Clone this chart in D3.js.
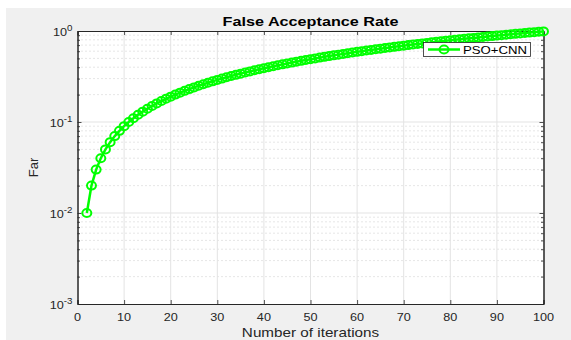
<!DOCTYPE html>
<html>
<head>
<meta charset="utf-8">
<script src="https://cdn.jsdelivr.net/npm/d3@7"></script>
<style>
  html, body { margin: 0; padding: 0; background: #ffffff; }
  svg { display: block; }
  text { font-family: "Liberation Sans", Arial, Helvetica, sans-serif; }
</style>
</head>
<body>
<svg id="chart" width="571" height="340"></svg>
<script>
// Iteration numbers and the false acceptance rate reached at each one
const iterations = [
  2, 3, 4, 5, 6, 7, 8, 9, 10, 11, 12, 13, 14, 15, 16, 17, 18, 19, 20,
  21, 22, 23, 24, 25, 26, 27, 28, 29, 30, 31, 32, 33, 34, 35, 36, 37, 38, 39, 40,
  41, 42, 43, 44, 45, 46, 47, 48, 49, 50, 51, 52, 53, 54, 55, 56, 57, 58, 59, 60,
  61, 62, 63, 64, 65, 66, 67, 68, 69, 70, 71, 72, 73, 74, 75, 76, 77, 78, 79, 80,
  81, 82, 83, 84, 85, 86, 87, 88, 89, 90, 91, 92, 93, 94, 95, 96, 97, 98, 99, 100
];
const farValues = [
  0.01, 0.02, 0.03, 0.04, 0.05, 0.06, 0.07, 0.08, 0.09, 0.10, 0.11, 0.12, 0.13, 0.14, 0.15, 0.16, 0.17, 0.18, 0.19,
  0.20, 0.21, 0.22, 0.23, 0.24, 0.25, 0.26, 0.27, 0.28, 0.29, 0.30, 0.31, 0.32, 0.33, 0.34, 0.35, 0.36, 0.37, 0.38, 0.39,
  0.40, 0.41, 0.42, 0.43, 0.44, 0.45, 0.46, 0.47, 0.48, 0.49, 0.50, 0.51, 0.52, 0.53, 0.54, 0.55, 0.56, 0.57, 0.58, 0.59,
  0.60, 0.61, 0.62, 0.63, 0.64, 0.65, 0.66, 0.67, 0.68, 0.69, 0.70, 0.71, 0.72, 0.73, 0.74, 0.75, 0.76, 0.77, 0.78, 0.79,
  0.80, 0.81, 0.82, 0.83, 0.84, 0.85, 0.86, 0.87, 0.88, 0.89, 0.90, 0.91, 0.92, 0.93, 0.94, 0.95, 0.96, 0.97, 0.98, 0.99
];
const xTicks = [0, 10, 20, 30, 40, 50, 60, 70, 80, 90, 100];
const yExponents = [-3, -2, -1, 0];
const seriesName = "PSO+CNN";
const titleText = "False Acceptance Rate";
const xLabelText = "Number of iterations";
const yLabelText = "Far";

const svg = d3.select("#chart");
const W = 571, H = 340;
const plot = { left: 77.5, top: 31, right: 543.5, bottom: 304 };
const stretch = 1.2;   // wide letterforms
const axisColor = "#262626";

// Text placed at (cx, cy) and widened horizontally
function wideText(parent, cx, cy, str, opts) {
  const g = parent.append("g").attr("transform", `translate(${cx},${cy}) scale(${opts.sx || stretch},1)`);
  const t = g.append("text")
    .attr("text-anchor", opts.anchor || "middle")
    .attr("font-size", opts.size)
    .attr("font-weight", opts.weight || "normal")
    .attr("fill", opts.fill || axisColor);
  if (str !== null) t.text(str);
  return t;
}

// Figure background
svg.append("rect").attr("x", 6).attr("y", 8).attr("width", W - 6).attr("height", H - 8)
  .attr("fill", "#f0f0f0");

const x = d3.scaleLinear().domain([0, 100]).range([plot.left, plot.right]);
const y = d3.scaleLog().domain([1e-3, 1]).range([plot.bottom, plot.top]);

// Axes area
svg.append("rect").attr("x", plot.left).attr("y", plot.top)
  .attr("width", plot.right - plot.left).attr("height", plot.bottom - plot.top)
  .attr("fill", "#ffffff");

// Minor decade values for the y grid
const minorY = [];
yExponents.slice(0, -1).forEach(e => {
  for (let m = 2; m <= 9; m++) minorY.push(m * Math.pow(10, e));
});
const majorY = yExponents.map(e => Math.pow(10, e));

const grid = svg.append("g");
grid.selectAll("line.minor").data(minorY).join("line")
  .attr("x1", plot.left).attr("x2", plot.right)
  .attr("y1", d => y(d)).attr("y2", d => y(d))
  .attr("stroke", "#c0c0c0").attr("stroke-width", 0.8)
  .attr("stroke-dasharray", "1,3");
grid.selectAll("line.majy").data(majorY.slice(1, -1)).join("line")
  .attr("x1", plot.left).attr("x2", plot.right)
  .attr("y1", d => y(d)).attr("y2", d => y(d))
  .attr("stroke", "#e3e3e3").attr("stroke-width", 1);
grid.selectAll("line.majx").data(xTicks.slice(1, -1)).join("line")
  .attr("x1", d => x(d)).attr("x2", d => x(d))
  .attr("y1", plot.top).attr("y2", plot.bottom)
  .attr("stroke", "#e3e3e3").attr("stroke-width", 1);

// Axes with inward ticks
const bottomAxis = svg.append("g").attr("transform", `translate(0,${plot.bottom})`)
  .call(d3.axisBottom(x).tickValues(xTicks).tickSize(-4).tickFormat(""));
const topAxis = svg.append("g").attr("transform", `translate(0,${plot.top})`)
  .call(d3.axisTop(x).tickValues(xTicks).tickSize(-4).tickFormat(""));
const leftAxis = svg.append("g").attr("transform", `translate(${plot.left},0)`)
  .call(d3.axisLeft(y).tickValues(majorY).tickSize(-4).tickFormat(""));
const leftMinor = svg.append("g").attr("transform", `translate(${plot.left},0)`)
  .call(d3.axisLeft(y).tickValues(minorY).tickSize(-2.5).tickFormat(""));
const rightAxis = svg.append("g").attr("transform", `translate(${plot.right},0)`)
  .call(d3.axisRight(y).tickValues(majorY).tickSize(-4).tickFormat(""));
const rightMinor = svg.append("g").attr("transform", `translate(${plot.right},0)`)
  .call(d3.axisRight(y).tickValues(minorY).tickSize(-2.5).tickFormat(""));

[bottomAxis, topAxis, leftAxis, leftMinor, rightAxis, rightMinor].forEach(g => {
  g.select(".domain").attr("stroke", axisColor).attr("stroke-width", 1);
  g.selectAll(".tick line").attr("stroke", axisColor).attr("stroke-width", 0.8);
});

// X tick labels
const xLab = svg.append("g");
xTicks.forEach(v => wideText(xLab, x(v), plot.bottom + 17, String(v), { size: 11, sx: 1.15 }));

// Y tick labels written as powers of ten
const yLab = svg.append("g");
yExponents.forEach(e => {
  const t = wideText(yLab, plot.left - 5, y(Math.pow(10, e)) + 5, null, { size: 11, anchor: "end", sx: 1.15 });
  t.append("tspan").text("10");
  t.append("tspan").attr("dy", -5).attr("font-size", 8.5).text(String(e));
});

// Series line and circle markers
const points = iterations.map((it, i) => ({ x: it, y: farValues[i] }));
const green = "#00ff00";
svg.append("path").datum(points)
  .attr("fill", "none").attr("stroke", green).attr("stroke-width", 2.5)
  .attr("d", d3.line().x(d => x(d.x)).y(d => y(d.y)));
svg.selectAll("ellipse.pt").data(points).join("ellipse")
  .attr("cx", d => x(d.x)).attr("cy", d => y(d.y)).attr("rx", 4.5).attr("ry", 4)
  .attr("fill", "none").attr("stroke", green).attr("stroke-width", 2);

// Legend
const lg = svg.append("g");
lg.append("rect").attr("x", 423.5).attr("y", 42.5).attr("width", 107).attr("height", 14)
  .attr("fill", "#ffffff").attr("stroke", axisColor).attr("stroke-width", 0.8);
lg.append("line").attr("x1", 428).attr("x2", 460).attr("y1", 49.5).attr("y2", 49.5)
  .attr("stroke", green).attr("stroke-width", 2.5);
lg.append("ellipse").attr("cx", 444).attr("cy", 49.5).attr("rx", 4.5).attr("ry", 4)
  .attr("fill", "none").attr("stroke", green).attr("stroke-width", 2);
wideText(lg, 463, 53.5, seriesName, { size: 11, anchor: "start", fill: "#000000" });

// Title and axis labels
wideText(svg, (plot.left + plot.right) / 2, 26, titleText,
  { size: 13.5, weight: "bold", fill: "#000000", sx: 1.2 });
wideText(svg, (plot.left + plot.right) / 2, 336.5, xLabelText, { size: 12.5, sx: 1.22 });
svg.append("text").attr("transform", `translate(38,${(plot.top + plot.bottom) / 2}) rotate(-90)`)
  .attr("text-anchor", "middle").attr("font-size", 13).attr("fill", axisColor)
  .text(yLabelText);
</script>
</body>
</html>
